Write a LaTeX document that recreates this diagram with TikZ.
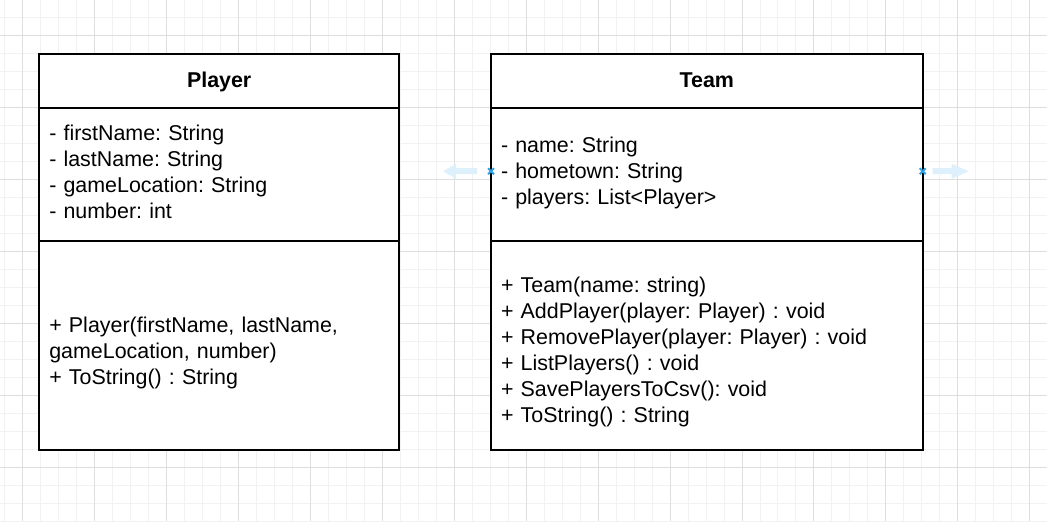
\documentclass[tikz,border=0pt]{standalone}
\usepackage{fontspec}
\setmainfont{Liberation Sans}
\usetikzlibrary{positioning}

\definecolor{gridminor}{HTML}{F2F2F2}
\definecolor{gridmajor}{HTML}{DEDEDE}
\definecolor{hoverblue}{HTML}{DDF0FC}
\definecolor{pinblue}{HTML}{2BA0E3}

\frenchspacing

\begin{document}
\begin{tikzpicture}[
    x=0.02cm, y=-0.02cm,
    node distance=0pt,
    txt/.style={font=\fontsize{12.2}{14.8}\selectfont},
    head/.style={
        rectangle, draw, line width=1.1pt, fill=white,
        minimum height=1.08cm, inner sep=0pt, outer sep=0pt,
        text height=0.32cm, text depth=0.09cm,
        font=\fontsize{12.2}{14.8}\selectfont\bfseries
    },
    part/.style={
        rectangle, draw, line width=1.1pt, fill=white, txt,
        align=left, inner xsep=0.2cm, inner ysep=0pt, outer sep=0pt
    },
    pin/.style={draw=pinblue, line width=1.1pt}
]
    % canvas and grid
    \fill[white] (0,0) rectangle (1047,521);
    \foreach \gx in {4,22,...,1047} \draw[gridminor] (\gx,0) -- (\gx,521);
    \foreach \gy in {17,35,...,521} \draw[gridminor] (0,\gy) -- (1047,\gy);
    \foreach \gx in {22,94,...,1047} \draw[gridmajor] (\gx,0) -- (\gx,521);
    \foreach \gy in {35,107,...,521} \draw[gridmajor] (0,\gy) -- (1047,\gy);
    \useasboundingbox (0,0) rectangle (1047,521);

    % Player class
    \node[head, minimum width=7.2cm, anchor=north west] (player) at (39,54) {Player};
    \node[part, text width=6.8cm, minimum height=2.66cm, below=of player] (playerattr)
        {- firstName: String\\- lastName: String\\- gameLocation: String\\- number: int\rule[-0.12cm]{0pt}{0pt}};
    \node[part, text width=6.8cm, minimum height=4.18cm, below=of playerattr] (playerops)
        {\rule{0pt}{0.6cm}+ Player(firstName, lastName,\\gameLocation, number)\\+ ToString() : String};

    % Team class
    \node[head, minimum width=8.64cm, anchor=north west] (team) at (491,54) {Team};
    \node[part, text width=8.24cm, minimum height=2.66cm, below=of team] (teamattr)
        {- name: String\\- hometown: String\\- players: List<Player>\rule[-0.17cm]{0pt}{0pt}};
    \node[part, text width=8.24cm, minimum height=4.18cm, below=of teamattr] (teamops)
        {\rule{0pt}{0.56cm}+ Team(name: string)\\+ AddPlayer(player: Player) : void\\+ RemovePlayer(player: Player) : void\\+ ListPlayers() : void\\+ SavePlayersToCsv(): void\\+ ToString() : String};

    % hover hints
    \fill[hoverblue] (443,171) -- (456,163.5) -- (456,168) -- (477,168)
        -- (477,174) -- (456,174) -- (456,178.5) -- cycle;
    \fill[hoverblue] (969,171) -- (952,163.5) -- (952,168) -- (933,168)
        -- (933,174) -- (952,174) -- (952,178.5) -- cycle;
    \draw[pin] (488,168) -- (494,174) (488,174) -- (494,168);
    \draw[pin] (920,168) -- (926,174) (920,174) -- (926,168);
\end{tikzpicture}
\end{document}
